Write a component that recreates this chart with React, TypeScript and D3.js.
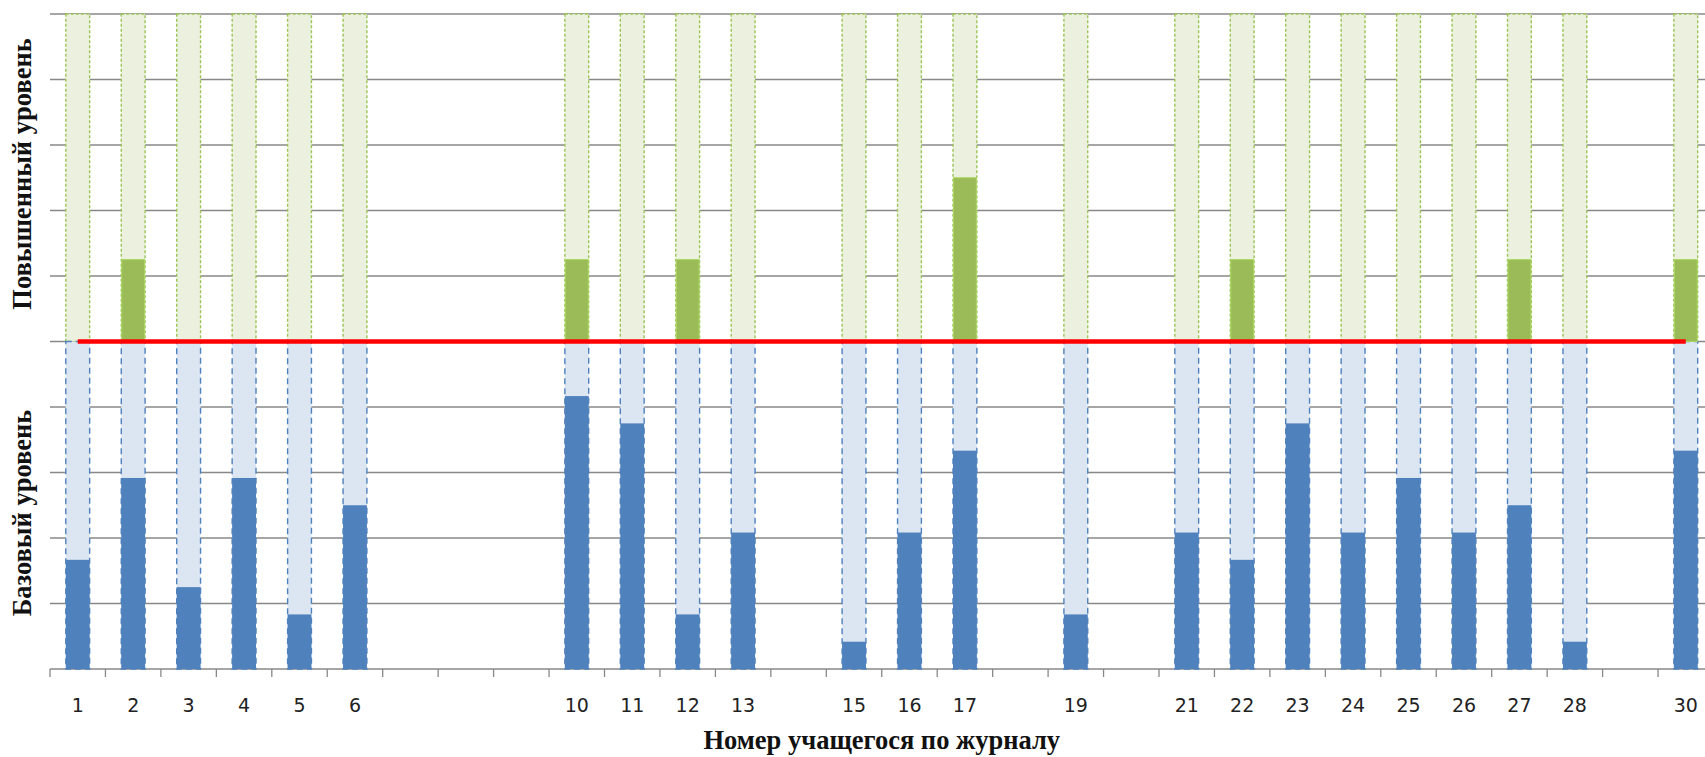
import React from "react";
import * as d3 from "d3";

const slots = d3.range(1, 31).map(String);
const students = ["1", "2", "3", "4", "5", "6", "10", "11", "12", "13", "15", "16", "17", "19", "21", "22", "23", "24", "25", "26", "27", "28", "30"];
const baseScores = [4, 7, 3, 7, 2, 6, 10, 9, 2, 5, 1, 5, 8, 2, 5, 4, 9, 5, 7, 5, 6, 1, 8];
const advancedScores = [0, 1, 0, 0, 0, 0, 1, 0, 1, 0, 0, 0, 2, 0, 0, 1, 0, 0, 0, 0, 1, 0, 1];
const baseMax = 12;
const advancedMax = 4;
const gridTicks = d3.range(0, 11).map((i) => i * 0.2);
const xTitle = "Номер учащегося по журналу";
const yTitleTop = "Повышенный уровень";
const yTitleBottom = "Базовый уровень";

const W = 1705;
const H = 757;
const left = 50;
const step = 55.45;
const right = left + step * 30;
const top = 14;
const bottom = 669;

export default function App() {
  const x = d3.scaleBand<string>().domain(slots).range([left, right]).paddingInner(0.57).paddingOuter(0.285);
  const y = d3.scaleLinear().domain([0, 2]).range([bottom, top]);
  const bw = x.bandwidth();
  const boundaries = d3.range(0, 31).map((i) => left + i * x.step());
  const c = (s: string) => (x(s) as number) + bw / 2;

  return (
    <svg width={W} height={H} style={{ position: "fixed", left: 0, top: 0, background: "#fff" }}>
      {gridTicks.map((t) => (
        <line key={t} x1={left} x2={W + 20} y1={y(t)} y2={y(t)} stroke="#888" strokeWidth={1.3} />
      ))}
      {students.map((s) => (
        <g key={"bg" + s}>
          <rect x={x(s)} y={y(2)} width={bw} height={y(1) - y(2)} fill="#EBF1DE" stroke="#9BC455" strokeWidth={1.4} strokeDasharray="3,2" />
          <rect x={x(s)} y={y(1)} width={bw} height={y(0) - y(1)} fill="#DCE6F2" stroke="#4F81BD" strokeWidth={1.4} strokeDasharray="6,4" />
        </g>
      ))}
      {students.map((s, i) => {
        const bv = baseScores[i] / baseMax;
        const av = advancedScores[i] / advancedMax;
        return (
          <g key={"v" + s}>
            {bv > 0 && <rect x={x(s)} y={y(bv)} width={bw} height={y(0) - y(bv)} fill="#4F81BD" />}
            {av > 0 && (
              <rect x={(x(s) as number) + 0.5} y={y(1 + av)} width={bw - 1} height={y(1) - y(1 + av)} fill="#9BBB59" stroke="#A9D65E" strokeWidth={1} />
            )}
          </g>
        );
      })}
      <line x1={c("1")} x2={c("30")} y1={y(1)} y2={y(1)} stroke="#FF0000" strokeWidth={4.5} />
      {boundaries.map((bx, i) => (
        <line key={"t" + i} x1={bx} x2={bx} y1={bottom} y2={bottom + 8} stroke="#888" strokeWidth={1.3} />
      ))}
      {students.map((s) => (
        <text key={"l" + s} x={c(s)} y={712} textAnchor="middle" fontFamily="DejaVu Sans" fontSize={19} fill="#222">
          {s}
        </text>
      ))}
      <text x={(left + right) / 2} y={749} textAnchor="middle" fontFamily="Liberation Serif" fontWeight="bold" fontSize={26.5} fill="#111">
        {xTitle}
      </text>
      <text transform={`translate(31, 174) rotate(-90)`} textAnchor="middle" fontFamily="Liberation Serif" fontWeight="bold" fontSize={26.5} fill="#111">
        {yTitleTop}
      </text>
      <text transform={`translate(31, 513) rotate(-90)`} textAnchor="middle" fontFamily="Liberation Serif" fontWeight="bold" fontSize={26.5} fill="#111">
        {yTitleBottom}
      </text>
    </svg>
  );
}
